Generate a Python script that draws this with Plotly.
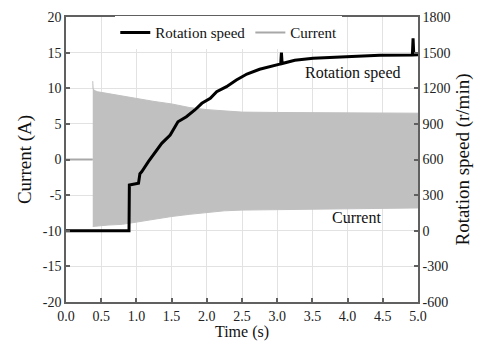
import plotly.graph_objects as go

# ---- data ----
# Current before start-up (flat line)
t_cur_idle = [0.0, 0.38]
cur_idle = [0.0, 0.0]

# Current envelope (upper / lower bounds of the AC current)
t_env = [0.38, 0.385, 0.40, 0.45, 0.6, 0.8, 1.0, 1.25, 1.5, 1.75, 2.0, 2.25, 2.5, 3.0, 3.5, 4.0, 4.5, 5.0]
cur_upper = [11.0, 10.0, 9.7, 9.5, 9.25, 8.9, 8.6, 8.15, 7.8, 7.3, 7.0, 6.8, 6.65, 6.6, 6.6, 6.6, 6.55, 6.5]
cur_lower = [-9.4, -9.4, -9.35, -9.3, -9.2, -9.1, -8.8, -8.4, -8.0, -7.7, -7.4, -7.2, -7.1, -7.0, -6.95, -6.9, -6.85, -6.8]

# Rotation speed (r/min)
t_speed = [0.0, 0.895, 0.90, 1.03, 1.05, 1.075, 1.17, 1.26, 1.36, 1.48, 1.59, 1.71, 1.83, 1.93,
           2.05, 2.14, 2.28, 2.42, 2.57, 2.75, 2.90, 3.05, 3.06, 3.07, 3.25, 3.51, 3.98, 4.46,
           4.92, 4.93, 4.94, 5.0]
speed = [0, 0, 385, 400, 480, 497, 582, 652, 736, 806, 918, 960, 1017, 1073,
         1115, 1171, 1213, 1269, 1320, 1360, 1385, 1405, 1500, 1408, 1435, 1452, 1466, 1478,
         1480, 1620, 1480, 1482]

# Axis ticks
x_ticks = [0.0, 0.5, 1.0, 1.5, 2.0, 2.5, 3.0, 3.5, 4.0, 4.5, 5.0]
y_ticks = [-20, -15, -10, -5, 0, 5, 10, 15, 20]
y2_ticks = [-600, -300, 0, 300, 600, 900, 1200, 1500, 1800]

FONT = "Liberation Serif"
GREY_FILL = "#c0c0c0"
AXIS_COL = "#606060"
GRID_COL = "#e2e2e2"

fig = go.Figure()

# Current envelope as filled polygon
fig.add_trace(go.Scatter(
    x=t_env + t_env[::-1],
    y=cur_upper + cur_lower[::-1],
    fill="toself", fillcolor=GREY_FILL,
    line=dict(color=GREY_FILL, width=1),
    mode="lines", showlegend=False, hoverinfo="skip",
))
# Idle current line (also legend item)
fig.add_trace(go.Scatter(
    x=t_cur_idle, y=cur_idle, mode="lines",
    line=dict(color="#a8a8a8", width=2),
    name="Current", legendrank=2,
))
# Rotation speed on secondary axis
fig.add_trace(go.Scatter(
    x=t_speed, y=speed, mode="lines", yaxis="y2",
    line=dict(color="black", width=3),
    name="Rotation speed", legendrank=1,
))

fig.add_annotation(x=4.08, y=12.1, xref="x", yref="y", text="Rotation speed",
                   showarrow=False, font=dict(family=FONT, size=16, color="#111"))
fig.add_annotation(x=4.12, y=-8.1, xref="x", yref="y", text="Current",
                   showarrow=False, font=dict(family=FONT, size=16, color="#111"))

axis_common = dict(
    showline=True, linecolor=AXIS_COL, linewidth=1.5,
    ticks="inside", ticklen=4, tickcolor=AXIS_COL, tickwidth=1.5,
    tickfont=dict(family=FONT, size=14, color="#222"),
    zeroline=False, automargin=False,
)

fig.update_layout(
    width=481, height=341,
    margin=dict(l=66, r=63, t=17, b=39),
    plot_bgcolor="white", paper_bgcolor="white",
    font=dict(family=FONT, color="#111"),
    xaxis=dict(
        range=[0, 5], tickvals=x_ticks, ticktext=[f"{v:.1f}" for v in x_ticks],
        showgrid=True, gridcolor=GRID_COL, gridwidth=1, mirror=True,
        title=dict(text="Time (s)", font=dict(family=FONT, size=16), standoff=2),
        **axis_common,
    ),
    yaxis=dict(
        range=[-20, 20], tickvals=y_ticks, ticktext=[str(v) for v in y_ticks],
        showgrid=True, gridcolor=GRID_COL, gridwidth=1,
        title=dict(text="Current (A)", font=dict(family=FONT, size=19), standoff=6),
        **axis_common,
    ),
    yaxis2=dict(
        range=[-600, 1800], tickvals=y2_ticks, ticktext=[str(v) for v in y2_ticks],
        overlaying="y", side="right",
        showgrid=False,
        title=dict(text="Rotation speed (r/min)", font=dict(family=FONT, size=19), standoff=6),
        **axis_common,
    ),
    legend=dict(
        orientation="h", x=0.14, y=0.945, xanchor="left", yanchor="middle",
        bgcolor="white", font=dict(family=FONT, size=15, color="#111"),
        itemwidth=30, tracegroupgap=0,
    ),
    showlegend=True,
)

fig.write_html(
    "out.html",
    config={"displayModeBar": False},
    post_script="document.body.style.margin='0';document.body.style.overflow='hidden';",
)
